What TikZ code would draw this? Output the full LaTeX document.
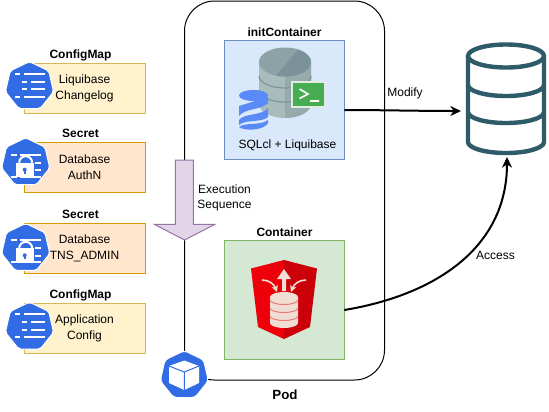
\documentclass[tikz,border=0pt]{standalone}
\usepackage{fontspec}
\setmainfont{Liberation Sans}
\usetikzlibrary{arrows.meta,shapes.geometric}

\definecolor{kubeblue}{RGB}{50,108,229}
\definecolor{dbteal}{RGB}{47,91,105}
\definecolor{drumbody}{RGB}{169,188,188}
\definecolor{drumshade}{RGB}{150,171,172}
\definecolor{drumline}{RGB}{125,150,152}
\definecolor{drumtop}{RGB}{140,162,167}
\definecolor{drumtopdark}{RGB}{122,146,152}
\definecolor{liquiblue}{RGB}{90,138,248}
\definecolor{shieldred}{RGB}{238,0,10}
\definecolor{shielddark}{RGB}{204,0,8}
\definecolor{shieldpale}{RGB}{240,222,212}
\definecolor{shieldline}{RGB}{235,120,115}

\tikzset{
  cfgbox/.style={draw={rgb,255:red,214;green,182;blue,86},fill={rgb,255:red,255;green,242;blue,204},line width=0.75,minimum width=90.75pt,minimum height=37.5pt,inner sep=0pt,align=center,font=\fontsize{9}{11.5}\selectfont},
  secbox/.style={cfgbox,draw={rgb,255:red,215;green,155;blue,0},fill={rgb,255:red,255;green,230;blue,204}},
  ctrbox/.style={line width=0.75,minimum width=90pt,minimum height=89.5pt,inner sep=0pt},
  kubehept/.style={regular polygon,regular polygon sides=7,fill=kubeblue,draw=white,line width=0.75,rounded corners=1.5pt,minimum size=37pt,inner sep=0pt,outer sep=0pt},
  plaintext/.style={inner sep=0.75pt,align=left,font=\fontsize{9}{11.25}\selectfont},
  titletext/.style={inner sep=0.75pt,font=\fontsize{9}{11.25}\selectfont\bfseries},
  flowline/.style={line width=1.5,-{Stealth[length=8pt,width=7.5pt,inset=2.5pt]}},
  glyph/.style={white,line width=1.5}
}

% lines of the configmap icon
\newcommand{\cfgglyph}[1]{
\begin{scope}[shift={(#1)}]
\draw [glyph] (-14.7,-11.7) -- (-9.3,-11.7) (-6,-11.7) -- (15,-11.7) ;
\draw [glyph] (-7.3,-4) -- (-2.7,-4) (1.3,-4) -- (15,-4) ;
\draw [glyph] (-7.3,3.7) -- (-2.7,3.7) (1.3,3.7) -- (15,3.7) ;
\draw [glyph] (-14.7,11) -- (-9.3,11) (-6,11) -- (15,11) ;
\end{scope}
}
% lines and lock of the secret icon
\newcommand{\secglyph}[1]{
\begin{scope}[shift={(#1)}]
\draw [glyph] (-15,-7) -- (-9,-7) (-6,-7) -- (15,-7) ;
\draw [glyph] (9,1) -- (15,1) (9,8.5) -- (15,8.5) ;
\draw [glyph] (-15,15) -- (-9,15) (-6,15) -- (15,15) ;
\draw [white,line width=1.5] (-6.5,1) arc [start angle=180,end angle=360,x radius=6.5,y radius=6.5] ;
\fill [white] (-10,1) rectangle (8,15.5) ;
\fill [kubeblue] (-1,8) circle [radius=2] ;
\fill [kubeblue] (-1.8,8) rectangle (-0.2,12) ;
\end{scope}
}

\begin{document}
\begin{tikzpicture}[x=0.75pt,y=0.75pt,yscale=-1,xscale=1]
\useasboundingbox (0,0) rectangle (549,411);

%Shape: Pod outline
\node (podbox) at (284.5,190.5) [draw,line width=0.75,rounded corners=22.5pt,minimum width=150pt,minimum height=284.25pt,inner sep=0pt] {};

%Shape: Containers
\node (initbox) at (284.3,100.3) [ctrbox,draw={rgb,255:red,108;green,142;blue,191},fill={rgb,255:red,218;green,232;blue,252}] {};
\node (appbox) at (284.3,300.3) [ctrbox,draw={rgb,255:red,130;green,179;blue,102},fill={rgb,255:red,213;green,232;blue,212}] {};

%Shape: Execution arrow
\draw [draw={rgb,255:red,150;green,115;blue,166},fill={rgb,255:red,225;green,213;blue,231},line width=0.75] (175.3,160) -- (193.3,160) -- (193.3,224.3) -- (215,224.3) -- (184.5,240) -- (154.3,224.3) -- (175.3,224.3) -- cycle ;

%Shape: Config and secret boxes
\node (logbox) at (84.5,88.3) [cfgbox] {Liquibase\\Changelog};
\node (authbox) at (84.5,167.3) [secbox] {Database\\AuthN};
\node (tnsbox) at (84.5,248.3) [secbox] {Database\\TNS\_ADMIN};
\node (cfgbox) at (84.5,328.3) [cfgbox] {Application\\Config};

%Shape: Kubernetes icons
\node (logicon) at (29.5,86.3) [kubehept] {};
\cfgglyph{29.5,85.5}
\node (authicon) at (25.7,162.5) [kubehept] {};
\secglyph{25.7,161.7}
\node (tnsicon) at (25.7,248.1) [kubehept] {};
\secglyph{25.7,247.3}
\node (cfgicon) at (29.5,326.8) [kubehept] {};
\cfgglyph{29.5,326}
\node (podicon) at (184.3,375.3) [kubehept,rounded corners=2.5pt] {};
\fill [white] (184.3,360.5) -- (199,366) -- (199,383) -- (184.3,390) -- (169,383) -- (169,366) -- cycle ;
\draw [kubeblue,line width=0.75] (169,366) -- (184.3,372) -- (199,366) (184.3,372) -- (184.3,390) ;

%Shape: Database of the SQLcl image
\fill [drumbody] (259,62) -- (259,104) arc [start angle=180,end angle=0,x radius=26,y radius=14] -- (311,62) -- cycle ;
\fill [drumshade] (285,70) -- (311,62) -- (311,104) arc [start angle=0,end angle=90,x radius=26,y radius=14] -- cycle ;
\draw [drumline,line width=0.9] (259,76) arc [start angle=180,end angle=0,x radius=26,y radius=12] ;
\draw [drumline,line width=0.9] (259,90) arc [start angle=180,end angle=0,x radius=26,y radius=12] ;
\fill [drumtop] (285,62) ellipse [x radius=26,y radius=14.5] ;
\fill [drumtopdark] (276,75.6) -- (298,49.5) arc [start angle=-60,end angle=110,x radius=26,y radius=14.5] -- cycle ;
% terminal
\draw [fill={rgb,255:red,70;green,174;blue,80},draw={rgb,255:red,225;green,235;blue,225},line width=1] (292,82) rectangle (325,107) ;
\draw [white,line width=1.2] (299.5,89) -- (308,94) -- (299.5,98.5) (310,101) -- (319,101) ;
% liquibase drum
\fill [liquiblue] (239,106) -- (268,97) -- (268,103) .. controls (262,110) and (245,108) .. (239,116) -- cycle ;
\fill [liquiblue] (239,120) .. controls (244,113) and (262,116) .. (268,108) -- (268,117) .. controls (262,123) and (245,119) .. (239,125) -- cycle ;
\fill [liquiblue] (239,127) .. controls (245,122) and (260,126) .. (268,120) -- (268,123) .. controls (264,131) and (243,131) .. (239,127) -- cycle ;
\fill [liquiblue] (253.5,95.5) ellipse [x radius=14.5,y radius=5.5] ;

%Shape: Shield of the application image
\fill [shieldred] (284,260) -- (251,268.5) -- (258,327) -- (284,339) -- cycle ;
\fill [shielddark] (284,260) -- (317,268.5) -- (310,327) -- (284,339) -- cycle ;
\fill [shieldpale] (270,297) -- (270,323) arc [start angle=180,end angle=0,x radius=14,y radius=5] -- (298,297) -- cycle ;
\fill [shieldpale] (284,297) ellipse [x radius=14,y radius=5] ;
\draw [shieldline,line width=0.75] (270,300) arc [start angle=180,end angle=0,x radius=14,y radius=4.5] ;
\draw [shieldline,line width=0.75] (270,308) arc [start angle=180,end angle=0,x radius=14,y radius=4.5] ;
\draw [shieldline,line width=0.75] (270,316) arc [start angle=180,end angle=0,x radius=14,y radius=4.5] ;
\fill [shieldpale] (282,291) -- (282,279) -- (277,279) -- (284,269) -- (291,279) -- (286,279) -- (286,291) -- cycle ;
\draw [shieldpale,line width=1.2,-{Stealth[length=5pt,width=5pt]}] (262,280) .. controls (269,280) and (274,284) .. (277,292) ;
\draw [shieldpale,line width=1.2,-{Stealth[length=5pt,width=5pt]}] (306,280) .. controls (299,280) and (294,284) .. (291,292) ;

%Shape: Database icon
\node (dbicon) at (506,99) [minimum width=60pt,minimum height=85pt,inner sep=0pt] {};
\draw [dbteal,line width=3.3] (468,56) -- (468,142) arc [start angle=180,end angle=0,x radius=38,y radius=11] -- (544,56) ;
\draw [dbteal,line width=3.3] (506,56) ellipse [x radius=38,y radius=11.5] ;
\draw [dbteal,line width=3.3] (468,85) arc [start angle=180,end angle=0,x radius=38,y radius=11] ;
\draw [dbteal,line width=3.3] (468,112) arc [start angle=180,end angle=0,x radius=38,y radius=11] ;

%Straight Lines
\coordinate (initout) at (344.3,110);
\coordinate (dbleft) at (461,111);
\coordinate (appout) at (344.3,310);
\coordinate (dbbottom) at (507,157);
\draw [flowline] (initout) .. controls (380,110) and (420,111) .. (dbleft) ;
\draw [flowline] (appout) .. controls (435,295) and (507,248) .. (dbbottom) ;

% Text Node
\node (logtitle) at (80.5,55) [titletext] {ConfigMap};
% Text Node
\node (authtitle) at (80.5,133.5) [titletext] {Secret};
% Text Node
\node (tnstitle) at (80.5,214.5) [titletext] {Secret};
% Text Node
\node (cfgtitle) at (80.5,295) [titletext] {ConfigMap};
% Text Node
\node (inittitle) at (284.5,32) [titletext] {initContainer};
% Text Node
\node (apptitle) at (284.5,232) [titletext] {Container};
% Text Node
\node (podtitle) at (285,395) [titletext,font=\fontsize{10}{12}\selectfont\bfseries] {Pod};
% Text Node
\node (sqlcltext) at (287.5,145) [plaintext] {SQLcl + Liquibase};
% Text Node
\node (seqtext) at (224.5,197.5) [plaintext,align=center] {Execution\\Sequence};
% Text Node
\node (modifytext) at (405,93) [plaintext] {Modify};
% Text Node
\node (accesstext) at (495.5,255) [plaintext] {Access};

\end{tikzpicture}
\end{document}
